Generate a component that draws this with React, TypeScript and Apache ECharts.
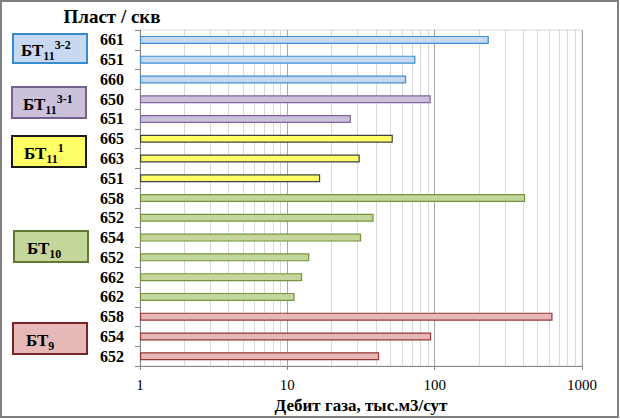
import React, { useEffect, useRef } from "react";
import * as echarts from "echarts";

// ---- data ----
const wells = ["661", "651", "660", "650", "651", "665", "663", "651", "658", "652", "654", "652", "662", "662", "658", "654", "652"];
const gasRate = [233, 74, 64, 94, 27, 52, 31, 16.7, 411, 38.5, 31.7, 14.1, 12.6, 11.2, 631, 94.7, 42];
const layerOfWell = [0, 0, 0, 1, 1, 2, 2, 2, 3, 3, 3, 3, 3, 3, 4, 4, 4];
const layerBase = ["БТ", "БТ", "БТ", "БТ", "БТ"];
const layerSub = ["11", "11", "11", "10", "9"];
const layerSup = ["3-2", "3-1", "1", "", ""];
const xTickLabels = ["1", "10", "100", "1000"];
const minorGridValues = [2, 3, 4, 5, 6, 7, 8, 9, 20, 30, 40, 50, 60, 70, 80, 90, 200, 300, 400, 500, 600, 700, 800, 900];

// ---- styles ----
const FONT = '"Times New Roman", "Liberation Serif", serif';
const layerFill = ["#c6d9f1", "#ccc1da", "#ffff66", "#c3d69b", "#e6b9b8"];
const layerStroke = ["#3c8fd6", "#8064a2", "#404040", "#77933c", "#953735"];
const boxStroke = ["#3a8ad0", "#76608f", "#1a1a1a", "#5f7a30", "#7a2424"];
const boxLayout = [
  { x: 13, y: 34, w: 74, h: 29, tx: 21 },
  { x: 12, y: 87, w: 74, h: 31, tx: 23 },
  { x: 12, y: 136, w: 74, h: 31, tx: 24 },
  { x: 14, y: 231, w: 74, h: 31, tx: 27 },
  { x: 13, y: 323, w: 74, h: 31, tx: 26 },
];

export default function App() {
  const ref = useRef<HTMLDivElement>(null);
  useEffect(() => {
    if (!ref.current) return;
    const chart = echarts.init(ref.current, null, { renderer: "svg" });

    const boxes: any[] = [];
    boxLayout.forEach((b, i) => {
      boxes.push({
        type: "rect",
        shape: { x: b.x, y: b.y, width: b.w, height: b.h },
        style: { fill: layerFill[i], stroke: boxStroke[i], lineWidth: 2 },
        z: 10,
      });
      const parts = ["{b|" + layerBase[i] + "}", "{sub|" + layerSub[i] + "}"];
      if (layerSup[i]) parts.push("{sup|" + layerSup[i] + "}");
      boxes.push({
        type: "text",
        x: b.tx,
        y: b.y + b.h / 2 + 2,
        z: 11,
        style: {
          text: parts.join(""),
          textAlign: "left",
          textVerticalAlign: "middle",
          fill: "#000",
          rich: {
            b: { fontFamily: FONT, fontWeight: "bold", fontSize: 17, lineHeight: 23, verticalAlign: "middle", fill: "#000" },
            sub: { fontFamily: FONT, fontWeight: "bold", fontSize: 12, lineHeight: 12, verticalAlign: "bottom", fill: "#000" },
            sup: { fontFamily: FONT, fontWeight: "bold", fontSize: 12, lineHeight: 12, verticalAlign: "top", fill: "#000" },
          },
        },
      });
    });

    chart.setOption({
      animation: false,
      backgroundColor: "#ffffff",
      grid: { left: 140, right: 38, top: 30, bottom: 50, show: true, borderColor: "#d9d9d9", borderWidth: 1, containLabel: false },
      xAxis: {
        type: "log",
        logBase: 10,
        min: 1,
        max: 1000,
        axisLine: { show: true, lineStyle: { color: "#868686", width: 1 } },
        axisTick: { show: true, length: 4, lineStyle: { color: "#868686" } },
        axisLabel: {
          fontFamily: FONT,
          fontSize: 15,
          color: "#000",
          margin: 11,
          formatter: (v: number) => {
            const idx = Math.round(Math.log10(v));
            return xTickLabels[idx] ?? String(v);
          },
        },
        splitLine: { show: true, lineStyle: { color: "#a6a6a6", width: 1 } },
        name: "Дебит газа, тыс.м3/сут",
        nameLocation: "middle",
        nameGap: 25,
        nameTextStyle: { fontFamily: FONT, fontSize: 17, fontWeight: "bold", color: "#000" },
      },
      yAxis: {
        type: "category",
        inverse: true,
        data: wells.map((_, i) => String(i)),
        axisLine: { show: true, lineStyle: { color: "#868686", width: 1 } },
        axisTick: { show: true, length: 5, lineStyle: { color: "#868686" } },
        axisLabel: {
          interval: 0,
          fontFamily: FONT,
          fontSize: 16,
          fontWeight: "bold",
          color: "#000",
          margin: 16,
          formatter: (_v: string, i: number) => wells[i],
        },
        splitLine: { show: false },
      },
      series: [
        {
          type: "bar",
          barWidth: 8,
          data: gasRate.map((v, i) => ({
            value: v,
            itemStyle: {
              color: layerFill[layerOfWell[i]],
              borderColor: layerStroke[layerOfWell[i]],
              borderWidth: 1.2,
            },
          })),
          markLine: {
            silent: true,
            symbol: "none",
            label: { show: false },
            lineStyle: { color: "#d9d9d9", type: "solid", width: 1 },
            data: minorGridValues.map((v) => ({ xAxis: v })),
            z: 1,
          },
          z: 5,
        },
      ],
      graphic: [
        {
          type: "rect",
          shape: { x: 1, y: 1, width: 617, height: 416 },
          style: { fill: "none", stroke: "#808080", lineWidth: 2 },
          z: 20,
          silent: true,
        },
        {
          type: "text",
          x: 112,
          y: 16,
          style: {
            text: "Пласт / скв",
            textAlign: "center",
            textVerticalAlign: "middle",
            fontFamily: FONT,
            fontSize: 19,
            fontWeight: "bold",
            fill: "#000",
          },
          z: 11,
        },
        ...boxes,
      ],
    });
    return () => chart.dispose();
  }, []);
  return <div ref={ref} style={{ position: "fixed", left: 0, top: 0, width: 620, height: 419 }} />;
}
